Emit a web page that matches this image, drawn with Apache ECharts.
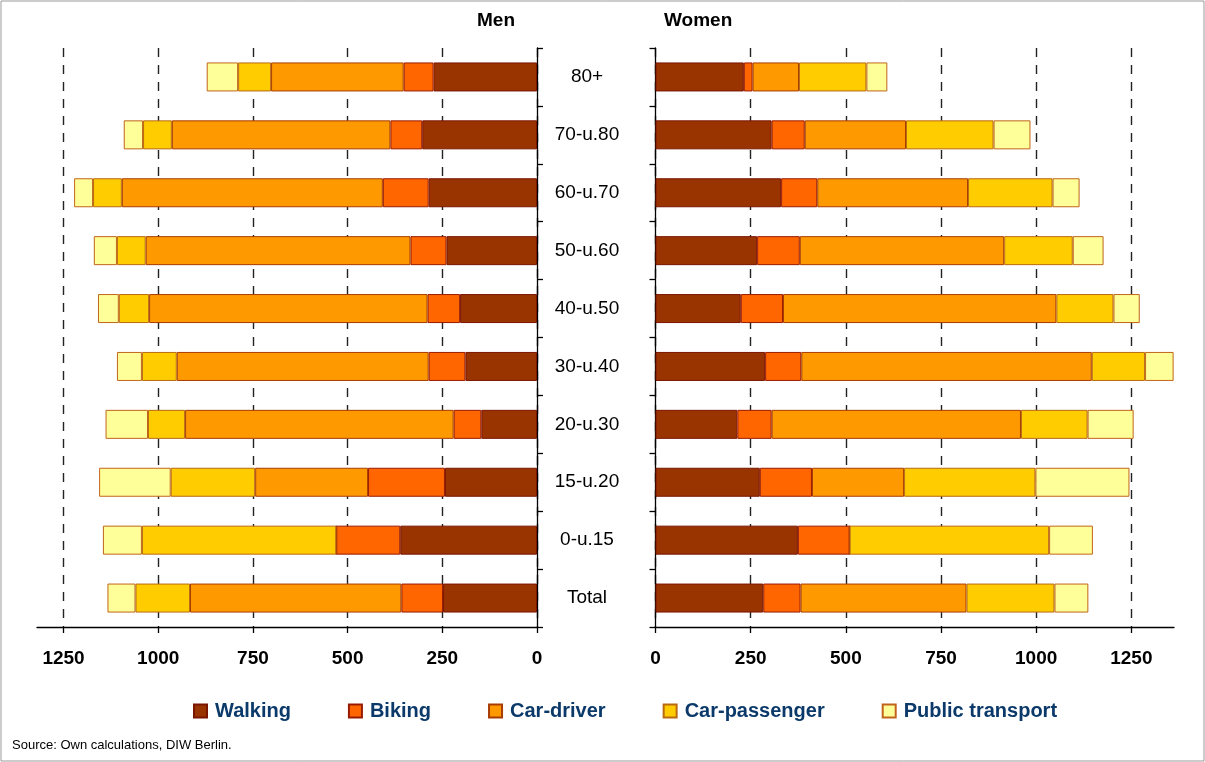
<!DOCTYPE html>
<html>
<head>
<meta charset="utf-8">
<script src="https://cdn.jsdelivr.net/npm/echarts@6/dist/echarts.min.js"></script>
<style>
html,body{margin:0;padding:0;background:#fff;}
#chart{width:1205px;height:762px;}
</style>
</head>
<body>
<div id="chart"></div>
<script>
// Categories, top to bottom
const categories = ['80+', '70-u.80', '60-u.70', '50-u.60', '40-u.50', '30-u.40', '20-u.30', '15-u.20', '0-u.15', 'Total'];
const seriesNames = ['Walking', 'Biking', 'Car-driver', 'Car-passenger', 'Public transport'];
const xTicks = [0, 250, 500, 750, 1000, 1250];

// Men
const menWalking   = [273, 303, 286, 239, 203, 189, 147, 243, 361, 248];
const menBiking    = [79, 84, 121, 95, 86, 97, 73, 203, 169, 110];
const menCarDriver = [350, 577, 689, 699, 735, 665, 709, 298, 0, 558];
const menCarPass   = [87, 76, 76, 76, 80, 92, 98, 223, 513, 144];
const menPublic    = [83, 51, 50, 61, 55, 66, 112, 189, 103, 74];

// Women
const womenWalking   = [232, 305, 330, 267, 224, 288, 215, 274, 374, 283];
const womenBiking    = [23, 87, 95, 112, 111, 95, 90, 137, 136, 98];
const womenCarDriver = [122, 266, 396, 537, 718, 763, 655, 242, 0, 436];
const womenCarPass   = [177, 230, 222, 180, 150, 140, 175, 345, 524, 231];
const womenPublic    = [55, 97, 71, 81, 69, 75, 121, 247, 115, 89];

const fills   = ['#993300', '#FF6600', '#FF9900', '#FFCC00', '#FFFF99'];
const borders = ['#7a1500', '#991a00', '#a83c00', '#b86a10', '#c0641a'];

const menData = [menWalking, menBiking, menCarDriver, menCarPass, menPublic];
const womenData = [womenWalking, womenBiking, womenCarDriver, womenCarPass, womenPublic];

const FONT = '"Liberation Sans", Arial, sans-serif';

function xAxisFor(gridIndex, max, inverse) {
  return {
    type: 'value', gridIndex: gridIndex, min: 0, max: max, interval: 250, inverse: inverse,
    axisLine: { show: true, onZero: false, lineStyle: { color: '#000', width: 1.3 } },
    axisTick: { show: true, length: 6, customValues: xTicks, lineStyle: { color: '#000', width: 1.3 } },
    axisLabel: {
      margin: 22, color: '#000', fontFamily: FONT, fontWeight: 'bold', fontSize: 19,
      customValues: xTicks,
      showMinLabel: true, showMaxLabel: true,
      formatter: v => String(v)
    },
    splitLine: { show: true, lineStyle: { color: '#222', width: 1.4, type: [9, 8] } }
  };
}

const series = [];
seriesNames.forEach((name, i) => {
  series.push({
    name: name, type: 'bar', stack: 'men', xAxisIndex: 0, yAxisIndex: 0,
    barWidth: 29, data: menData[i],
    itemStyle: { color: fills[i], borderColor: borders[i], borderWidth: 1 }
  });
});
seriesNames.forEach((name, i) => {
  series.push({
    name: name, type: 'bar', stack: 'women', xAxisIndex: 1, yAxisIndex: 1,
    barWidth: 29, data: womenData[i],
    itemStyle: { color: fills[i], borderColor: borders[i], borderWidth: 1 }
  });
});

const chart = echarts.init(document.getElementById('chart'), null, { renderer: 'canvas' });
chart.setOption({
  animation: false,
  backgroundColor: '#fff',
  textStyle: { fontFamily: FONT },
  grid: [
    { left: 37, right: 1205 - 537, top: 48, bottom: 762 - 627 },
    { left: 655.5, right: 1205 - 1174, top: 48, bottom: 762 - 627 }
  ],
  xAxis: [ xAxisFor(0, 1320, true), xAxisFor(1, 1362, false) ],
  yAxis: [
    {
      type: 'category', gridIndex: 0, data: categories, inverse: true, position: 'right',
      axisLine: { show: true, lineStyle: { color: '#000', width: 1.3 } },
      axisTick: { show: true, length: 6, lineStyle: { color: '#000', width: 1.3 } },
      axisLabel: { margin: 50, align: 'center', color: '#000', fontFamily: FONT, fontSize: 19 },
      splitLine: { show: false }
    },
    {
      type: 'category', gridIndex: 1, data: categories, inverse: true, position: 'left',
      axisLine: { show: true, lineStyle: { color: '#000', width: 1.3 } },
      axisTick: { show: true, length: 6, lineStyle: { color: '#000', width: 1.3 } },
      axisLabel: { show: false },
      splitLine: { show: false }
    }
  ],
  legend: {
    data: seriesNames,
    left: 188, top: 696,
    itemWidth: 13, itemHeight: 13, itemGap: 57,
    icon: 'rect',
    textStyle: { color: '#0b3a6a', fontFamily: FONT, fontWeight: 'bold', fontSize: 20, padding: [0, 0, 0, 3] }
  },
  graphic: [
    { type: 'rect', shape: { x: 1, y: 1, width: 1203, height: 760 }, style: { fill: 'none', stroke: '#999', lineWidth: 1 }, silent: true },
    { type: 'text', left: 477, top: 11, style: { text: 'Men', fill: '#000', font: 'bold 19px ' + FONT } },
    { type: 'text', left: 664, top: 11, style: { text: 'Women', fill: '#000', font: 'bold 19px ' + FONT } },
    { type: 'text', left: 12, top: 739, style: { text: 'Source: Own calculations, DIW Berlin.', fill: '#000', font: '13px ' + FONT } }
  ],
  series: series
});
</script>
</body>
</html>
